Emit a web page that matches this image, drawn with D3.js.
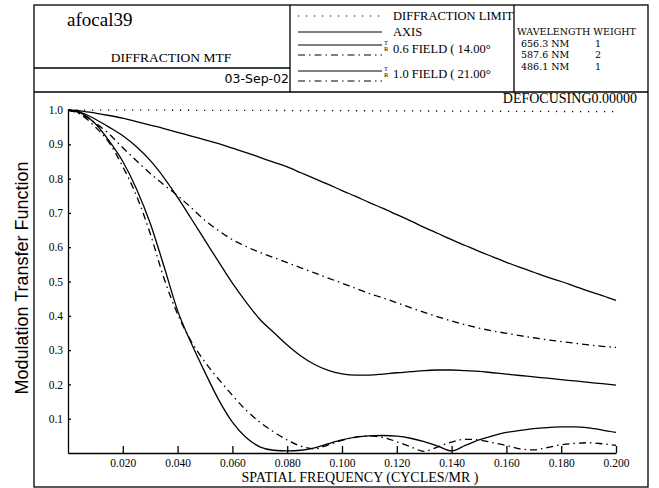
<!DOCTYPE html>
<html>
<head>
<meta charset="utf-8">
<script src="https://cdn.jsdelivr.net/npm/d3@7"></script>
<style>
  body { margin: 0; background: #fff; }
  svg text { fill: #000; }
</style>
</head>
<body>
<div id="chart"></div>
<script>
// Spatial frequency samples (cycles/mr)
const freq = [0, 0.005, 0.01, 0.015, 0.02, 0.025, 0.03, 0.035, 0.04, 0.045, 0.05,
  0.055, 0.06, 0.065, 0.07, 0.075, 0.08, 0.085, 0.09, 0.095, 0.1,
  0.105, 0.11, 0.115, 0.12, 0.125, 0.13, 0.135, 0.14, 0.145, 0.15,
  0.155, 0.16, 0.165, 0.17, 0.175, 0.18, 0.185, 0.19, 0.195, 0.2];

// MTF values
const diffLimitX = [0, 0.1, 0.2];
const diffLimit = [1.0, 0.998, 0.995];

const axisMtf = [1.0, 0.997, 0.991, 0.984, 0.976, 0.966, 0.956, 0.946, 0.935, 0.924, 0.913,
  0.902, 0.889, 0.876, 0.862, 0.848, 0.834, 0.817, 0.800, 0.783, 0.765,
  0.748, 0.730, 0.713, 0.695, 0.677, 0.658, 0.640, 0.622, 0.605, 0.588,
  0.572, 0.556, 0.541, 0.527, 0.513, 0.500, 0.486, 0.472, 0.459, 0.445];

const f06T = [1.0, 0.992, 0.973, 0.95, 0.925, 0.893, 0.853, 0.803, 0.745, 0.683, 0.62,
  0.557, 0.495, 0.44, 0.39, 0.352, 0.315, 0.283, 0.258, 0.241, 0.231,
  0.227, 0.227, 0.23, 0.234, 0.237, 0.24, 0.242, 0.242, 0.24, 0.238,
  0.234, 0.23, 0.226, 0.222, 0.218, 0.214, 0.21, 0.206, 0.202, 0.198];

const f06R = [1.0, 0.988, 0.962, 0.93, 0.89, 0.852, 0.815, 0.782, 0.75, 0.715, 0.678,
  0.648, 0.622, 0.602, 0.585, 0.57, 0.555, 0.54, 0.525, 0.51, 0.495,
  0.48, 0.465, 0.452, 0.438, 0.424, 0.41, 0.397, 0.385, 0.374, 0.364,
  0.356, 0.349, 0.342, 0.336, 0.33, 0.325, 0.32, 0.315, 0.311, 0.308];

const f10T = [1.0, 0.99, 0.96, 0.91, 0.85, 0.77, 0.67, 0.545, 0.415, 0.32, 0.235,
  0.155, 0.09, 0.045, 0.018, 0.008, 0.006, 0.008, 0.015, 0.027, 0.038,
  0.046, 0.05, 0.051, 0.049, 0.043, 0.033, 0.02, 0.006, 0.022, 0.038,
  0.05, 0.06, 0.066, 0.071, 0.074, 0.076, 0.076, 0.073, 0.067, 0.06];

const f10R = [1.0, 0.985, 0.95, 0.905, 0.835, 0.75, 0.64, 0.51, 0.405, 0.325, 0.265,
  0.215, 0.168, 0.125, 0.09, 0.062, 0.038, 0.02, 0.012, 0.024, 0.037,
  0.046, 0.05, 0.045, 0.033, 0.018, 0.005, 0.018, 0.032, 0.04, 0.038,
  0.03, 0.022, 0.012, 0.009, 0.016, 0.024, 0.028, 0.03, 0.027, 0.022];

const xTicks = [0.02, 0.04, 0.06, 0.08, 0.10, 0.12, 0.14, 0.16, 0.18, 0.20];
const yTicks = [0.1, 0.2, 0.3, 0.4, 0.5, 0.6, 0.7, 0.8, 0.9, 1.0];

const wavelengths = ["656.3 NM", "587.6 NM", "486.1 NM"];
const weights = ["1", "2", "1"];

const width = 659;
const height = 488;
const serif = "'Liberation Serif', 'DejaVu Serif', serif";
const wideSerif = "'DejaVu Serif', serif";

const svg = d3.select("#chart")
  .append("svg")
  .attr("width", width)
  .attr("height", height);

// Line styles
const DOT = "1.2,6.8";
const DASHDOT = "7,4,1.5,4";

// Frame and header grid
const frame = svg.append("g")
  .attr("fill", "none")
  .attr("stroke", "#000")
  .attr("stroke-width", 1.3);
frame.append("rect").attr("x", 34).attr("y", 5).attr("width", 614).attr("height", 482);
frame.append("line").attr("x1", 34).attr("x2", 648).attr("y1", 92).attr("y2", 92);
frame.append("line").attr("x1", 34).attr("x2", 290).attr("y1", 68).attr("y2", 68);
frame.append("line").attr("x1", 290).attr("x2", 290).attr("y1", 5).attr("y2", 92);
frame.append("line").attr("x1", 514).attr("x2", 514).attr("y1", 5).attr("y2", 92);

// Header texts
svg.append("text").attr("x", 67).attr("y", 26)
  .style("font-family", serif).style("font-size", "19px").text("afocal39");
svg.append("text").attr("x", 171).attr("y", 62).attr("text-anchor", "middle")
  .style("font-family", serif).style("font-size", "13.5px").text("DIFFRACTION MTF");
svg.append("text").attr("x", 289).attr("y", 83).attr("text-anchor", "end")
  .style("font-family", "'DejaVu Sans', sans-serif").style("font-size", "12.5px").text("03-Sep-02");

// Legend
const legend = svg.append("g");
const legendRows = [
  { y: 16, dash: DOT },
  { y: 32, dash: null },
  { y: 45, dash: null }, { y: 55, dash: DASHDOT },
  { y: 71, dash: null }, { y: 81, dash: DASHDOT }
];
legendRows.forEach(r => {
  legend.append("line")
    .attr("x1", 298).attr("x2", 382).attr("y1", r.y).attr("y2", r.y)
    .attr("stroke", "#000").attr("stroke-width", 1.2)
    .attr("stroke-dasharray", r.dash);
});
const legendLabels = [
  { y: 20, t: "DIFFRACTION LIMIT" },
  { y: 36, t: "AXIS" },
  { y: 53, t: "0.6  FIELD ( 14.00\u00B0" },
  { y: 78, t: "1.0  FIELD ( 21.00\u00B0" }
];
legendLabels.forEach(l => {
  legend.append("text").attr("x", 393).attr("y", l.y)
    .style("font-family", serif).style("font-size", "12.5px").text(l.t);
});
[[45, "T"], [51, "R"], [71, "T"], [77, "R"]].forEach(([y, t]) => {
  legend.append("text").attr("x", 384).attr("y", y)
    .style("font-family", serif).style("font-size", "6.5px").text(t);
});

// Wavelength table
svg.append("text").attr("x", 517).attr("y", 35)
  .style("font-family", wideSerif).style("font-size", "9.5px").text("WAVELENGTH WEIGHT");
wavelengths.forEach((w, i) => {
  svg.append("text").attr("x", 521).attr("y", 46.5 + i * 11.5)
    .style("font-family", wideSerif).style("font-size", "9.5px").text(w);
  svg.append("text").attr("x", 595).attr("y", 46.5 + i * 11.5)
    .style("font-family", wideSerif).style("font-size", "9.5px").text(weights[i]);
});

// Scales
const xScale = d3.scaleLinear().domain([0, 0.2]).range([68, 616]);
const yScale = d3.scaleLinear().domain([0, 1]).range([453, 110]);

// Axes
const xAxis = svg.append("g")
  .attr("transform", "translate(0,453)")
  .call(d3.axisBottom(xScale).tickValues(xTicks).tickFormat(d3.format(".3f"))
    .tickSizeInner(-7).tickSizeOuter(0).tickPadding(6));
const yAxis = svg.append("g")
  .attr("transform", "translate(68,0)")
  .call(d3.axisLeft(yScale).tickValues(yTicks).tickFormat(d3.format(".1f"))
    .tickSizeInner(-3).tickSizeOuter(0).tickPadding(5));
[xAxis, yAxis].forEach(a => {
  a.selectAll("path, line").attr("stroke", "#000").attr("stroke-width", 1.3);
  a.selectAll("text").attr("fill", "#000")
    .style("font-family", serif).style("font-size", "11.5px");
});

// Axis titles
svg.append("text").attr("x", 360).attr("y", 482).attr("text-anchor", "middle")
  .style("font-family", serif).style("font-size", "14px")
  .text("SPATIAL FREQUENCY (CYCLES/MR )");
svg.append("text")
  .attr("transform", "translate(28,278) rotate(-90)")
  .attr("text-anchor", "middle")
  .style("font-family", "'Liberation Sans', Arial, sans-serif").style("font-size", "18px")
  .text("Modulation Transfer Function");
svg.append("text").attr("x", 637).attr("y", 103).attr("text-anchor", "end")
  .style("font-family", serif).style("font-size", "14px").text("DEFOCUSING0.00000");

// Curves
const line = d3.line()
  .x(d => xScale(d[0]))
  .y(d => yScale(d[1]))
  .curve(d3.curveMonotoneX);

const series = [
  { xs: diffLimitX, ys: diffLimit, dash: DOT },
  { xs: freq, ys: axisMtf, dash: null },
  { xs: freq, ys: f06T, dash: null },
  { xs: freq, ys: f06R, dash: DASHDOT },
  { xs: freq, ys: f10T, dash: null },
  { xs: freq, ys: f10R, dash: DASHDOT }
];

svg.append("g").selectAll("path")
  .data(series)
  .enter()
  .append("path")
  .attr("d", s => line(s.xs.map((x, i) => [x, s.ys[i]])))
  .attr("fill", "none")
  .attr("stroke", "#000")
  .attr("stroke-width", 1.3)
  .attr("stroke-dasharray", s => s.dash);
</script>
</body>
</html>
